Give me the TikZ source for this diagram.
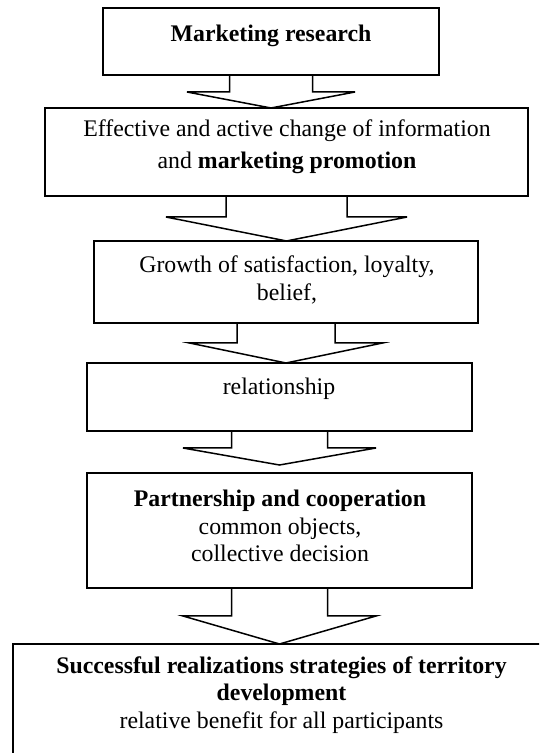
\documentclass[tikz,border=0pt]{standalone}
\usepackage{fontspec}
\setmainfont{Liberation Serif}
\usetikzlibrary{calc}
\tikzset{
  boxframe/.style={draw=black, line width=1.5pt, inner sep=0pt, outer sep=0pt, rectangle},
  boxtext/.style={inner sep=0pt, align=center, font=\fontsize{23.8}{27.5}\selectfont},
  arrowline/.style={draw=black, line width=1.5pt, line join=miter}
}
% block arrow: source, target, stem half width, wing half width, stem length, gap above target
\newcommand\blockarr[6]{%
  \draw[arrowline] ($(#1.south)+(-#3,0)$) -- ++(0,-#5) -- ($(#1.south)+(-#4,-#5)$)
    -- ($(#1.south |- #2.north)+(0,#6)$) -- ($(#1.south)+(#4,-#5)$)
    -- ($(#1.south)+(#3,-#5)$) -- ++(0,#5);}
\begin{document}
\begin{tikzpicture}[x=1pt,y=1pt]
\useasboundingbox (0,0) rectangle (539,753);
\clip (0,0) rectangle (539,753);
% boxes
\node[boxframe, minimum width=336pt, minimum height=67pt] (b1) at (271,711.5) {};
\node[boxframe, minimum width=483pt, minimum height=88pt] (b2) at (286.5,601) {};
\node[boxframe, minimum width=384pt, minimum height=82pt] (b3) at (286,471) {};
\node[boxframe, minimum width=385pt, minimum height=68pt] (b4) at (279.5,356) {};
\node[boxframe, minimum width=385pt, minimum height=115pt] (b5) at (279.5,222.5) {};
\node[boxframe, minimum width=537pt, minimum height=116pt] (b6) at (281.5,51) {};
% texts
\node[boxtext] (t1) at (271,717) {\textbf{Marketing research}};
\node[boxtext, font=\fontsize{23.8}{31.5}\selectfont] (t2) at (287,606) {Effective and active change of information\\and \textbf{marketing promotion}};
\node[boxtext] (t3) at (287,473) {Growth of satisfaction, loyalty,\\belief,};
\node[boxtext] (t4) at (279,364) {relationship};
\node[boxtext] (t5) at (280,227) {\textbf{Partnership and cooperation}\\common objects,\\collective decision};
\node[boxtext] (t6) at (281.5,58) {\textbf{Successful realizations strategies of territory}\\\textbf{development}\\relative benefit for all participants};
% block arrows
\blockarr{b1}{b2}{41.5}{84}{17}{0}
\blockarr{b2}{b3}{60.5}{120.5}{21}{0}
\blockarr{b3}{b4}{49}{96.5}{20}{0}
\blockarr{b4}{b5}{48}{96.5}{17}{8}
\blockarr{b5}{b6}{48}{96.5}{28}{0}
\end{tikzpicture}
\end{document}
